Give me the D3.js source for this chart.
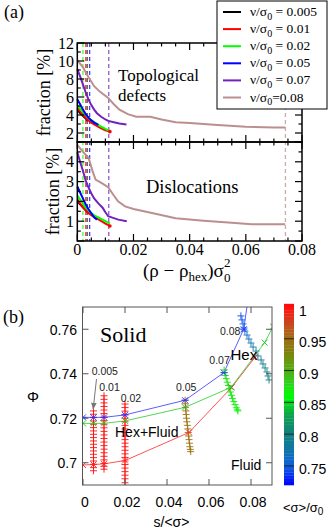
<!DOCTYPE html>
<html>
<head>
<meta charset="utf-8">
<script src="https://cdn.jsdelivr.net/npm/d3@7"></script>
<style>body{margin:0;background:#fff}</style>
</head>
<body>
<svg id="chart" width="332" height="531"></svg>
<script>
// ---- panel (a) data: [ (rho-rho_hex)sigma0^2 , fraction % ]
const seriesNames = ["ν/σ|0| = 0.005", "ν/σ|0| = 0.01", "ν/σ|0| = 0.02", "ν/σ|0| = 0.05", "ν/σ|0| = 0.07", "ν/σ|0|=0.08"];
const seriesColors = ["#000000", "#ff0000", "#00ff00", "#0000ff", "#7221bc", "#bc8f8f"];
const hexDensity = [0.0035, 0.003, 0.002, 0.0044, 0.0112, 0.0741];

const topoBlack = [[0,4.6],[0.001,4.2],[0.002,3.9],[0.003,3.6],[0.0038,3.35]];
const topoRed = [[0,4.75],[0.001,4.4],[0.002,4.0],[0.003,3.7],[0.004,3.4],[0.005,3.15],[0.006,2.95],[0.008,2.6],[0.010,2.3],[0.0116,2.15]];
const topoGreen = [[0,5.1],[0.001,4.7],[0.002,4.3],[0.003,4.0],[0.004,3.7],[0.005,3.4],[0.006,3.2],[0.008,2.8],[0.010,2.45],[0.0116,2.2]];
const topoBlue = [[0,5.75],[0.001,5.2],[0.002,4.6],[0.003,4.1],[0.004,3.7],[0.005,3.4],[0.006,3.15],[0.0075,2.9]];
const topoPurple = [[0,9.1],[0.001,8.3],[0.002,7.4],[0.003,6.5],[0.004,5.7],[0.005,5.1],[0.006,4.6],[0.007,4.2],[0.0085,3.8],[0.010,3.5],[0.011,3.35],[0.013,3.2],[0.015,3.05],[0.0175,2.95]];
const topoBrown = [[0,10.1],[0.002,9.3],[0.004,8.2],[0.006,7.2],[0.008,6.6],[0.011,5.9],[0.013,5.2],[0.015,4.6],[0.018,4.1],[0.021,3.8],[0.026,3.8],[0.030,3.5],[0.035,3.2],[0.040,3.1],[0.050,2.9],[0.060,2.7],[0.070,2.6],[0.074,2.6]];

const dislBlack = [[0,2.0],[0.001,1.85],[0.002,1.7],[0.003,1.55],[0.0038,1.45]];
const dislRed = [[0,2.1],[0.001,1.9],[0.002,1.7],[0.003,1.55],[0.004,1.4],[0.005,1.3],[0.006,1.2],[0.008,1.05],[0.010,0.88],[0.0116,0.76]];
const dislGreen = [[0,2.3],[0.001,2.1],[0.002,1.9],[0.003,1.7],[0.004,1.55],[0.005,1.4],[0.006,1.3],[0.008,1.15],[0.010,1.0],[0.0116,0.88]];
const dislBlue = [[0,2.75],[0.001,2.45],[0.002,2.15],[0.003,1.85],[0.004,1.6],[0.005,1.4],[0.006,1.2],[0.007,1.08]];
const dislPurple = [[0,4.48],[0.001,4.0],[0.002,3.55],[0.003,3.05],[0.004,2.7],[0.005,2.4],[0.006,2.15],[0.0075,1.9],[0.009,1.68],[0.010,1.45],[0.011,1.25],[0.0125,1.18],[0.0146,1.08],[0.0176,1.0]];
const dislBrown = [[0,4.85],[0.002,4.5],[0.004,4.2],[0.0055,3.5],[0.0065,3.1],[0.009,2.9],[0.011,2.72],[0.013,2.3],[0.0145,2.0],[0.017,1.75],[0.020,1.62],[0.027,1.4],[0.035,1.15],[0.045,1.02],[0.055,0.92],[0.062,0.85],[0.074,0.84]];

const topoSeries = [topoBlack, topoRed, topoGreen, topoBlue, topoPurple, topoBrown];
const dislSeries = [dislBlack, dislRed, dislGreen, dislBlue, dislPurple, dislBrown];

const xTicksA = [0, 0.02, 0.04, 0.06, 0.08];
const topTicks = [2, 4, 6, 8, 10, 12];
const botTicks = [1, 2, 3, 4];

// ---- panel (b) data: [ s/<sigma>, Phi ]
const blueLine = [[0,0.7204],[0.005,0.7204],[0.01,0.7204],[0.02,0.7215],[0.0486,0.7281],[0.0671,0.7405],[0.0765,0.7600],[0.0787,0.7740]];
const greenLine = [[0,0.7177],[0.005,0.7177],[0.01,0.7177],[0.02,0.7188],[0.0486,0.7249],[0.0705,0.7339],[0.0865,0.7540],[0.0905,0.7612]];
const redLine = [[0,0.6990],[0.005,0.6992],[0.01,0.6995],[0.02,0.7010],[0.0505,0.7136],[0.0708,0.7339],[0.0819,0.7474]];

// scatter columns: [ s/<sigma>, Phi, <sigma>/sigma0 ]
const col005 = [[0.005,0.7233,1],[0.005,0.7218,1],[0.005,0.7203,1],[0.005,0.7188,1],[0.005,0.7173,1],[0.005,0.7158,1],[0.005,0.7143,1],[0.005,0.7128,1],[0.005,0.7113,1],[0.005,0.7098,1],[0.005,0.7083,1],[0.005,0.7068,1],[0.005,0.7053,1],[0.005,0.7038,1],[0.005,0.7023,1],[0.005,0.7008,1],[0.005,0.6993,1],[0.005,0.6978,1],[0.005,0.6964,1]];
const col01 = [[0.01,0.7301,1],[0.01,0.7285,1],[0.01,0.7269,1],[0.01,0.7253,1],[0.01,0.7237,1],[0.01,0.7221,1],[0.01,0.7205,1],[0.01,0.7189,1],[0.01,0.7173,1],[0.01,0.7157,1],[0.01,0.7141,1],[0.01,0.7125,1],[0.01,0.7109,1],[0.01,0.7093,1],[0.01,0.7077,1],[0.01,0.7061,1],[0.01,0.7045,1],[0.01,0.7029,1],[0.01,0.7013,1],[0.01,0.6997,1],[0.01,0.6984,1],[0.01,0.6971,1]];
const col02 = [[0.02,0.7264,1],[0.02,0.7248,1],[0.02,0.7232,1],[0.02,0.7216,1],[0.02,0.7200,1],[0.02,0.7184,1],[0.02,0.7168,1],[0.02,0.7152,1],[0.02,0.7136,1],[0.02,0.7120,1],[0.02,0.7104,1],[0.02,0.7088,1],[0.02,0.7072,1],[0.02,0.7056,1],[0.02,0.7040,1],[0.02,0.7024,1],[0.02,0.7008,1],[0.02,0.6992,1],[0.02,0.6976,1],[0.02,0.6960,1],[0.02,0.6944,1],[0.02,0.6928,1],[0.02,0.6910,1]];
const col05 = [[0.0486,0.7281,0.952],[0.0487,0.7265,0.952],[0.0488,0.7249,0.951],[0.0490,0.7233,0.951],[0.0491,0.7217,0.950],[0.0493,0.7200,0.950],[0.0495,0.7184,0.950],[0.0497,0.7168,0.949],[0.0499,0.7152,0.949],[0.0501,0.7136,0.948],[0.0503,0.7120,0.948],[0.0505,0.7104,0.948],[0.0507,0.7088,0.947],[0.0509,0.7072,0.947],[0.0511,0.7060,0.946],[0.0513,0.7050,0.946]];
const col07 = [[0.0672,0.7417,0.872],[0.0674,0.7405,0.872],[0.0677,0.7392,0.871],[0.0682,0.7378,0.871],[0.0687,0.7362,0.870],[0.0692,0.7347,0.870],[0.0697,0.7333,0.869],[0.0702,0.7318,0.868],[0.0707,0.7303,0.868],[0.0712,0.7289,0.867],[0.0718,0.7275,0.866],[0.0724,0.7261,0.866],[0.0730,0.7247,0.865],[0.0735,0.7238,0.865],[0.0738,0.7233,0.864]];
const col08 = [[0.0752,0.7660,0.742],[0.0757,0.7642,0.745],[0.0762,0.7624,0.748],[0.0767,0.7606,0.752],[0.0771,0.7592,0.756],[0.0781,0.7574,0.762],[0.0790,0.7556,0.767],[0.0800,0.7538,0.772],[0.0810,0.7520,0.776],[0.0824,0.7502,0.780],[0.0833,0.7480,0.783],[0.0848,0.7462,0.786],[0.0857,0.7444,0.789],[0.0867,0.7426,0.792],[0.0876,0.7408,0.794],[0.0881,0.7390,0.796],[0.0886,0.7372,0.798]];

const xTicksB = [0, 0.02, 0.04, 0.06, 0.08];
const yTicksB = [0.7, 0.72, 0.74, 0.76];
const cTicks = [0.75, 0.8, 0.85, 0.9, 0.95, 1];
const cStops = [0.72, 0.75, 0.78, 0.80, 0.83, 0.86, 0.88, 0.90, 0.93, 0.95, 0.97, 1.0];
const cColors = ["#0000ff", "#1060e0", "#10789c", "#108080", "#10a050", "#00ff00", "#30d020", "#50b010", "#808010", "#a07010", "#c05020", "#ff1010"];
const stepLabels = [["0.005", 91.7, 375], ["0.01", 99.3, 390.7], ["0.02", 120.7, 401.7], ["0.05", 176, 390.7], ["0.07", 209.3, 364], ["0.08", 220, 335]];

const serif = "'Liberation Serif','DejaVu Serif',serif";
const sans = "'Liberation Sans','DejaVu Sans',sans-serif";
const svg = d3.select("#chart");

// ================= panel (a) =================
const xA = d3.scaleLinear().domain([0, 0.08]).range([77.3, 302]);
const yTop = d3.scaleLinear().domain([1, 12]).range([142, 43]);
const yBot = d3.scaleLinear().domain([0, 5]).range([241, 142]);

const gA = svg.append("g");

// dashed lines at the hexatic densities
hexDensity.forEach((d, i) => {
  gA.append("line")
    .attr("x1", xA(d)).attr("x2", xA(d)).attr("y1", 43).attr("y2", 241)
    .attr("stroke", seriesColors[i]).attr("stroke-width", 1.3)
    .attr("stroke-opacity", 0.75).attr("stroke-dasharray", "4,3");
});

const lineTop = d3.line().x(d => xA(d[0])).y(d => yTop(d[1]));
const lineBot = d3.line().x(d => xA(d[0])).y(d => yBot(d[1]));
topoSeries.forEach((s, i) => {
  gA.append("path").attr("d", lineTop(s)).attr("fill", "none")
    .attr("stroke", seriesColors[i]).attr("stroke-width", 2);
});
dislSeries.forEach((s, i) => {
  gA.append("path").attr("d", lineBot(s)).attr("fill", "none")
    .attr("stroke", seriesColors[i]).attr("stroke-width", 2);
});
// red end marks
[[topoRed, yTop], [dislRed, yBot]].forEach(([s, y]) => {
  const p = s[s.length - 1];
  gA.append("circle").attr("cx", xA(p[0])).attr("cy", y(p[1])).attr("r", 1.8).attr("fill", "#ff0000");
});

// frames
[[43, 142], [142, 241]].forEach(([t, b]) => {
  gA.append("rect").attr("x", 77.3).attr("y", t).attr("width", 302 - 77.3).attr("height", b - t)
    .attr("fill", "none").attr("stroke", "#000").attr("stroke-width", 1.5);
});

function tick(x1, y1, x2, y2) {
  gA.append("line").attr("x1", x1).attr("y1", y1).attr("x2", x2).attr("y2", y2)
    .attr("stroke", "#000").attr("stroke-width", 1.2);
}
const xMinorA = d3.range(0, 0.0801, 0.005);
xMinorA.forEach(v => {
  const major = Math.abs(v / 0.02 - Math.round(v / 0.02)) < 1e-6;
  const L = major ? 7 : 3.5;
  const x = xA(v);
  tick(x, 43, x, 43 + L);
  tick(x, 142, x, 142 - L);
  tick(x, 142, x, 142 + L);
  tick(x, 241, x, 241 - L);
});
d3.range(1, 12.01, 1).forEach(v => {
  const L = v % 2 === 0 ? 7 : 3.5;
  tick(77.3, yTop(v), 77.3 + L, yTop(v));
  tick(302, yTop(v), 302 - L, yTop(v));
});
d3.range(0, 5.01, 0.5).forEach(v => {
  const L = v % 1 === 0 ? 7 : 3.5;
  tick(77.3, yBot(v), 77.3 + L, yBot(v));
  tick(302, yBot(v), 302 - L, yBot(v));
});

// tick labels
gA.selectAll(".ty").data(topTicks).join("text")
  .attr("x", 74).attr("y", d => yTop(d) + 5.5).attr("text-anchor", "end")
  .attr("font-family", serif).attr("font-size", 16).text(d => d);
gA.selectAll(".by").data(botTicks).join("text")
  .attr("x", 74).attr("y", d => yBot(d) + 5.5).attr("text-anchor", "end")
  .attr("font-family", serif).attr("font-size", 16).text(d => d);
gA.selectAll(".bx").data(xTicksA).join("text")
  .attr("x", d => xA(d)).attr("y", 255).attr("text-anchor", "middle")
  .attr("font-family", serif).attr("font-size", 16).text(d => d === 0 ? "0" : d3.format(".2f")(d));

// axis titles
[[45, 92.5], [54, 191.5]].forEach(([x, y]) => {
  gA.append("text").attr("transform", `translate(${x + 5},${y}) rotate(-90)`)
    .attr("text-anchor", "middle").attr("font-family", serif).attr("font-size", 18)
    .text("fraction [%]");
});
const xl = gA.append("text").attr("x", 143).attr("y", 277)
  .attr("font-family", serif).attr("font-size", 19);
xl.append("tspan").text("(ρ − ρ");
xl.append("tspan").attr("dy", 4).attr("font-size", 13).text("hex");
xl.append("tspan").attr("dy", -4).text(")σ");
xl.append("tspan").attr("dy", 5).attr("font-size", 13).text("0");
xl.append("tspan").attr("dx", -6.5).attr("dy", -15).attr("font-size", 13).text("2");

gA.append("text").attr("x", 118).attr("y", 81).attr("font-family", serif).attr("font-size", 17).text("Topological");
gA.append("text").attr("x", 118).attr("y", 101).attr("font-family", serif).attr("font-size", 17).text("defects");
gA.append("text").attr("x", 146).attr("y", 192.5).attr("font-family", serif).attr("font-size", 18.5).text("Dislocations");
svg.append("text").attr("x", 4).attr("y", 18).attr("font-family", serif).attr("font-size", 18).text("(a)");

// legend
const lg = svg.append("g");
lg.append("rect").attr("x", 217).attr("y", 1).attr("width", 110).attr("height", 108)
  .attr("fill", "#fff").attr("stroke", "#000").attr("stroke-width", 1);
seriesNames.forEach((name, i) => {
  const y = 12 + i * 17.1;
  lg.append("line").attr("x1", 223).attr("x2", 241).attr("y1", y).attr("y2", y)
    .attr("stroke", seriesColors[i]).attr("stroke-width", 2);
  const parts = name.split("|");
  const t = lg.append("text").attr("x", 250).attr("y", y + 4)
    .attr("font-family", serif).attr("font-size", 13.5);
  t.append("tspan").text(parts[0]);
  t.append("tspan").attr("dy", 3.5).attr("font-size", 10).text(parts[1]);
  t.append("tspan").attr("dy", -3.5).text(parts[2]);
});

// ================= panel (b) =================
const xB = d3.scaleLinear().domain([0, 0.09]).range([83, 272]);
const yB = d3.scaleLinear().domain([0.69, 0.77]).range([485, 307]);
const cB = d3.scaleLinear().domain([0.72, 1]).range([485, 307]);
const color = d3.scaleLinear().domain(cStops).range(cColors);

const gB = svg.append("g");
svg.append("defs").append("clipPath").attr("id", "clipB")
  .append("rect").attr("x", 82.5).attr("y", 307).attr("width", 272 - 82.5).attr("height", 178);
svg.select("defs").append("marker").attr("id", "arr").attr("viewBox", "0 0 10 10")
  .attr("refX", 9).attr("refY", 5).attr("markerWidth", 7).attr("markerHeight", 7)
  .attr("orient", "auto").append("path").attr("d", "M0,1L10,5L0,9z").attr("fill", "#777");

const plotB = gB.append("g").attr("clip-path", "url(#clipB)");
const lineB = d3.line().x(d => xB(d[0])).y(d => yB(d[1]));
const plusPath = "M-3.5,0H3.5M0,-3.5V3.5";
const crossPath = "M-3,-3L3,3M-3,3L3,-3";
const starPath = crossPath + "M-3.5,0H3.5";

[[redLine, "#ff4040"], [greenLine, "#40d040"], [blueLine, "#4a4aff"]].forEach(([s, c]) => {
  plotB.append("path").attr("d", lineB(s)).attr("fill", "none").attr("stroke", c).attr("stroke-width", 0.9);
});

[col005, col01, col02, col05, col07, col08].forEach(col => {
  plotB.selectAll(null).data(col).join("path")
    .attr("transform", d => `translate(${xB(d[0])},${yB(d[1])})`)
    .attr("d", plusPath).attr("fill", "none")
    .attr("stroke", d => color(d[2])).attr("stroke-width", 0.9);
});

[[redLine, "#ff2020", crossPath], [greenLine, "#20c020", crossPath], [blueLine, "#3030ff", starPath]].forEach(([s, c, p]) => {
  plotB.selectAll(null).data(s.filter(d => d[1] < 0.77)).join("path")
    .attr("transform", d => `translate(${xB(d[0])},${yB(d[1])})`)
    .attr("d", p).attr("fill", "none").attr("stroke", c).attr("stroke-width", 0.9);
});

// frame and ticks
gB.append("rect").attr("x", 82.5).attr("y", 307).attr("width", 272 - 82.5).attr("height", 178)
  .attr("fill", "none").attr("stroke", "#555").attr("stroke-width", 1);
xTicksB.forEach(v => {
  gB.append("line").attr("x1", xB(v)).attr("x2", xB(v)).attr("y1", 485).attr("y2", 479).attr("stroke", "#555");
  gB.append("line").attr("x1", xB(v)).attr("x2", xB(v)).attr("y1", 307).attr("y2", 313).attr("stroke", "#555");
});
yTicksB.forEach(v => {
  gB.append("line").attr("x1", 82.5).attr("x2", 88.5).attr("y1", yB(v)).attr("y2", yB(v)).attr("stroke", "#555");
  gB.append("line").attr("x1", 272).attr("x2", 266).attr("y1", yB(v)).attr("y2", yB(v)).attr("stroke", "#555");
});
gB.selectAll(".xb").data(xTicksB).join("text")
  .attr("x", d => xB(d) + 2).attr("y", 507).attr("text-anchor", "middle")
  .attr("font-family", sans).attr("font-size", 14).text(d => d === 0 ? "0" : d3.format(".2f")(d));
gB.selectAll(".yb").data(yTicksB).join("text")
  .attr("x", 77).attr("y", d => yB(d) + 5.5).attr("text-anchor", "end")
  .attr("font-family", sans).attr("font-size", 14).text(d => d === 0.7 ? "0.7" : d3.format(".2f")(d));

gB.append("text").attr("x", 171.5).attr("y", 527).attr("text-anchor", "middle")
  .attr("font-family", sans).attr("font-size", 14).text("s/<σ>");
gB.append("text").attr("x", 33).attr("y", 402).attr("text-anchor", "middle")
  .attr("font-family", sans).attr("font-size", 15).text("Φ");
svg.append("text").attr("x", 3).attr("y", 323).attr("font-family", serif).attr("font-size", 18).text("(b)");

gB.append("text").attr("x", 100).attr("y", 342).attr("font-family", serif).attr("font-size", 22).text("Solid");
gB.append("text").attr("x", 115).attr("y", 437).attr("font-family", sans).attr("font-size", 14).text("Hex+Fluid");
gB.append("text").attr("x", 230.5).attr("y", 360).attr("font-family", sans).attr("font-size", 15).text("Hex");
gB.append("text").attr("x", 231).attr("y", 470).attr("font-family", sans).attr("font-size", 14).text("Fluid");
stepLabels.forEach(([t, x, y]) => {
  gB.append("text").attr("x", x).attr("y", y).attr("font-family", sans).attr("font-size", 10.5)
    .attr("fill", "#222").text(t);
});
gB.append("line").attr("x1", 96.5).attr("y1", 379).attr("x2", 93.2).attr("y2", 409)
  .attr("stroke", "#777").attr("stroke-width", 1).attr("marker-end", "url(#arr)");

// colour bar
const cb = svg.append("g");
d3.range(0.72, 1.0, 0.005).forEach(v => {
  cb.append("rect").attr("x", 284).attr("width", 10)
    .attr("y", cB(v + 0.005)).attr("height", cB(v) - cB(v + 0.005) + 0.3)
    .attr("fill", color(v + 0.0025));
});
cTicks.forEach(v => {
  if (v < 1) cb.append("line").attr("x1", 284).attr("x2", 294).attr("y1", cB(v)).attr("y2", cB(v))
    .attr("stroke", "#222").attr("stroke-width", 1);
  cb.append("text").attr("x", 299).attr("y", cB(v) + (v === 1 ? 8.5 : 8))
    .attr("font-family", sans).attr("font-size", 14).text(v === 1 ? "1" : v === 0.8 ? "0.8" : v === 0.9 ? "0.9" : d3.format(".2f")(v));
});
const cl = cb.append("text").attr("x", 283).attr("y", 512).attr("font-family", sans).attr("font-size", 13);
cl.append("tspan").text("<σ>/σ");
cl.append("tspan").attr("dy", 3).attr("font-size", 10).text("0");
</script>
</body>
</html>
